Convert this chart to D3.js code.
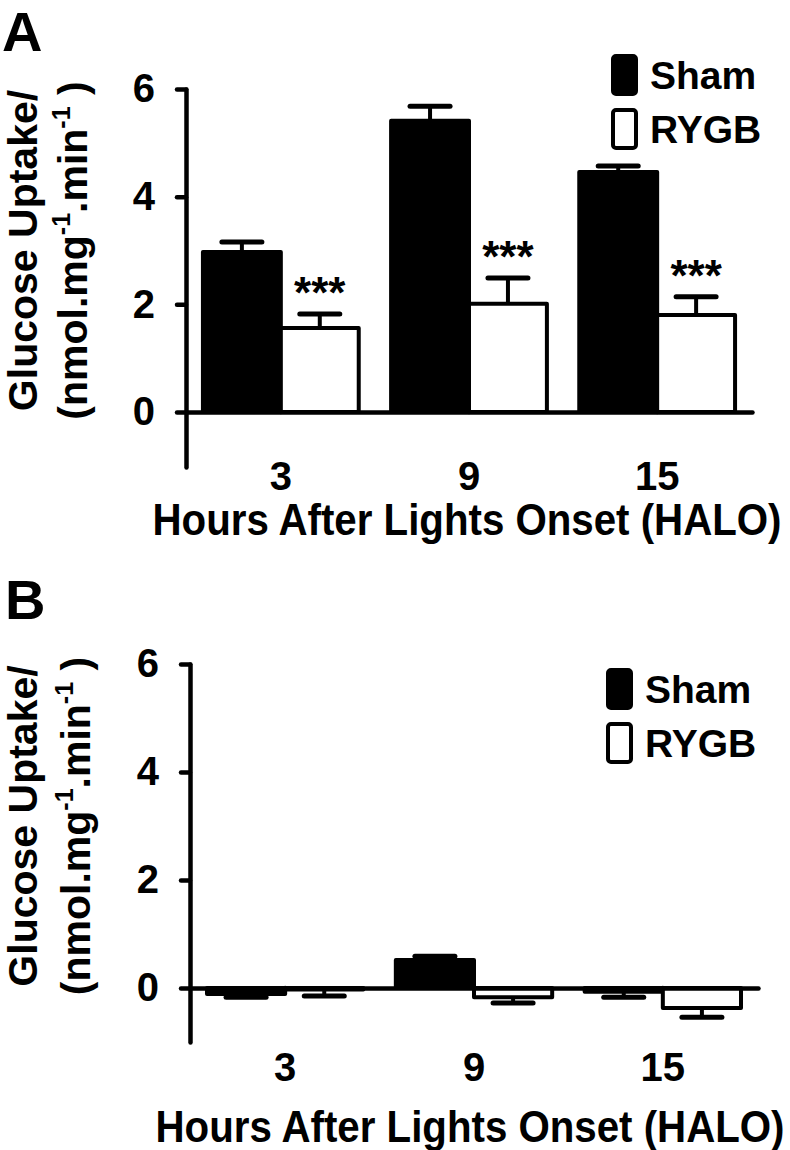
<!DOCTYPE html>
<html>
<head>
<meta charset="utf-8">
<script src="https://cdn.jsdelivr.net/npm/d3@7/dist/d3.min.js"></script>
<style>
body{margin:0;background:#fff}
svg text{font-family:"Liberation Sans",Arial,Helvetica,sans-serif;font-weight:bold;fill:#000}
.tick text{font-size:40px}
</style>
</head>
<body>
<svg></svg>
<script>
//categories
var hours = ["3","9","15"];
var groups = ["Sham","RYGB"];
var yTicks = [0,2,4,6];

//panel A values (mean and error)
var shamA = [2.97,5.41,4.46];
var shamErrA = [0.19,0.27,0.11];
var rygbA = [1.56,2.01,1.80];
var rygbErrA = [0.26,0.48,0.34];
var starsA = ["***","***","***"];

//panel B values
var shamB = [-0.11,0.52,-0.07];
var shamErrB = [0.06,0.07,0.10];
var rygbB = [-0.03,-0.17,-0.37];
var rygbErrB = [0.12,0.11,0.17];
var starsB = ["","",""];

var yTitle1 = "Glucose Uptake/";
var xTitle = "Hours After Lights Onset (HALO)";

var svg = d3.select("svg")
    .attr("width",790)
    .attr("height",1150);

//builds one row per bar from the arrays
var makeRows = function(sham,shamErr,rygb,rygbErr,stars)
{
    var rows = [];
    hours.forEach(function(h,i)
    {
        rows.push({hour:h,group:"Sham",value:sham[i],err:shamErr[i],star:""});
        rows.push({hour:h,group:"RYGB",value:rygb[i],err:rygbErr[i],star:stars[i]});
    });
    return rows;
}

var drawBars = function(rows,target,xScale,gScale,yScale)
{
    target.selectAll("rect.bar")
        .data(rows)
        .enter()
        .append("rect")
        .classed("bar",true)
        .attr("x",function(d){return xScale(d.hour)+gScale(d.group)})
        .attr("y",function(d){return Math.min(yScale(d.value),yScale(0))})
        .attr("width",gScale.bandwidth())
        .attr("height",function(d){return Math.abs(yScale(d.value)-yScale(0))})
        .attr("fill",function(d){return d.group=="Sham"?"#000":"#fff"})
        .attr("stroke","#000")
        .attr("stroke-width",4)
        .attr("stroke-linejoin","round");

    var cx = function(d){return xScale(d.hour)+gScale(d.group)+gScale.bandwidth()/2};
    var end = function(d){return yScale(d.value>=0?d.value+d.err:d.value-d.err)};

    var err = target.selectAll("g.err")
        .data(rows)
        .enter()
        .append("g")
        .classed("err",true);

    err.append("line")
        .attr("x1",cx).attr("x2",cx)
        .attr("y1",function(d){return yScale(d.value)})
        .attr("y2",end)
        .attr("stroke","#000")
        .attr("stroke-width",4);

    err.append("line")
        .attr("x1",function(d){return cx(d)-20})
        .attr("x2",function(d){return cx(d)+20})
        .attr("y1",end).attr("y2",end)
        .attr("stroke","#000")
        .attr("stroke-width",5)
        .attr("stroke-linecap","round");

    err.append("text")
        .text(function(d){return d.star})
        .attr("x",cx)
        .attr("y",function(d){return end(d)-6})
        .attr("text-anchor","middle")
        .style("font-size","44px");
}

var drawAxes = function(p,xScale,yScale)
{
    var yAxis = d3.axisLeft(yScale)
        .tickValues(yTicks)
        .tickFormat(d3.format("d"))
        .tickSize(9)
        .tickSizeOuter(0)
        .tickPadding(22);

    var xAxis = d3.axisBottom(xScale)
        .tickSize(0)
        .tickSizeOuter(0)
        .tickPadding(p.xLabelPad);

    var ya = svg.append("g")
        .attr("transform","translate("+p.x0+",0)")
        .call(yAxis);

    var xa = svg.append("g")
        .attr("transform","translate(0,"+yScale(0)+")")
        .call(xAxis);

    [ya,xa].forEach(function(a)
    {
        a.select(".domain").attr("stroke-width",4.5).attr("stroke-linecap","round");
        a.selectAll(".tick line").attr("stroke-width",4.5).attr("stroke-linecap","round");
        a.selectAll(".tick text").attr("fill","#000");
        a.attr("font-family",null).attr("font-size",null);
    });
}

var drawLabels = function(p,cy)
{
    svg.append("text")
        .text(p.letter)
        .attr("x",p.letterX)
        .attr("y",p.letterY)
        .style("font-size","56px");

    var t = svg.append("g")
        .attr("transform","translate(0,"+cy+") rotate(-90)");

    t.append("text")
        .text(yTitle1)
        .attr("x",0)
        .attr("y",p.title1X)
        .attr("text-anchor","middle")
        .style("font-size","41px");

    var l2 = t.append("text")
        .attr("x",0)
        .attr("y",p.title2X)
        .attr("text-anchor","middle")
        .style("font-size","41px");
    l2.append("tspan").text("(nmol.mg");
    l2.append("tspan").text("-1").attr("dy",-17).style("font-size","25px");
    l2.append("tspan").text(".min").attr("dy",17);
    l2.append("tspan").text("-1").attr("dy",-17).style("font-size","25px");
    l2.append("tspan").text(" )").attr("dy",17);

    //title is a little narrower than the plain font, so squeeze it sideways
    svg.append("g")
        .attr("transform","translate("+p.xTitleX+","+p.xTitleY+") scale(0.915,1)")
        .append("text")
        .text(xTitle)
        .attr("text-anchor","middle")
        .style("font-size","44px");
}

var drawLegend = function(p)
{
    var legend = svg.append("g")
        .attr("transform","translate("+p.legX+","+p.legY+")");

    var entries = legend.selectAll("g")
        .data(groups)
        .enter()
        .append("g")
        .attr("transform",function(d,i){return "translate(0,"+(i*54)+")"});

    entries.append("rect")
        .attr("x",2).attr("y",2)
        .attr("width",23).attr("height",38)
        .attr("rx",3)
        .attr("fill",function(d){return d=="Sham"?"#000":"#fff"})
        .attr("stroke","#000")
        .attr("stroke-width",4);

    entries.append("text")
        .text(function(d){return d})
        .attr("x",39)
        .attr("y",35)
        .style("font-size","39px");
}

var initGraph = function(p,rows)
{
    var perUnit = (p.yZero-p.yTop)/6;
    var yScale = d3.scaleLinear()
        .domain([-(p.yBottom-p.yZero)/perUnit,6])
        .range([p.yBottom,p.yTop]);

    var xScale = d3.scaleBand()
        .domain(hours)
        .range([p.x0,p.x1])
        .paddingInner(0.172)
        .paddingOuter(0.09);

    var gScale = d3.scaleBand()
        .domain(groups)
        .range([0,xScale.bandwidth()]);

    var target = svg.append("g");
    drawBars(rows,target,xScale,gScale,yScale);
    drawAxes(p,xScale,yScale);
    drawLabels(p,(yScale(0)+yScale(6))/2);
    drawLegend(p);
}

initGraph({letter:"A",letterX:2,letterY:51,x0:186,x1:752,yTop:89,yZero:412,yBottom:467,
           xLabelPad:50,title1X:37,title2X:87,xTitleX:467,xTitleY:535,legX:611,legY:54},
          makeRows(shamA,shamErrA,rygbA,rygbErrA,starsA));

initGraph({letter:"B",letterX:5,letterY:619,x0:190,x1:758,yTop:664,yZero:988,yBottom:1042,
           xLabelPad:65,title1X:37,title2X:90,xTitleX:470,xTitleY:1142,legX:606,legY:668},
          makeRows(shamB,shamErrB,rygbB,rygbErrB,starsB));
</script>
</body>
</html>
